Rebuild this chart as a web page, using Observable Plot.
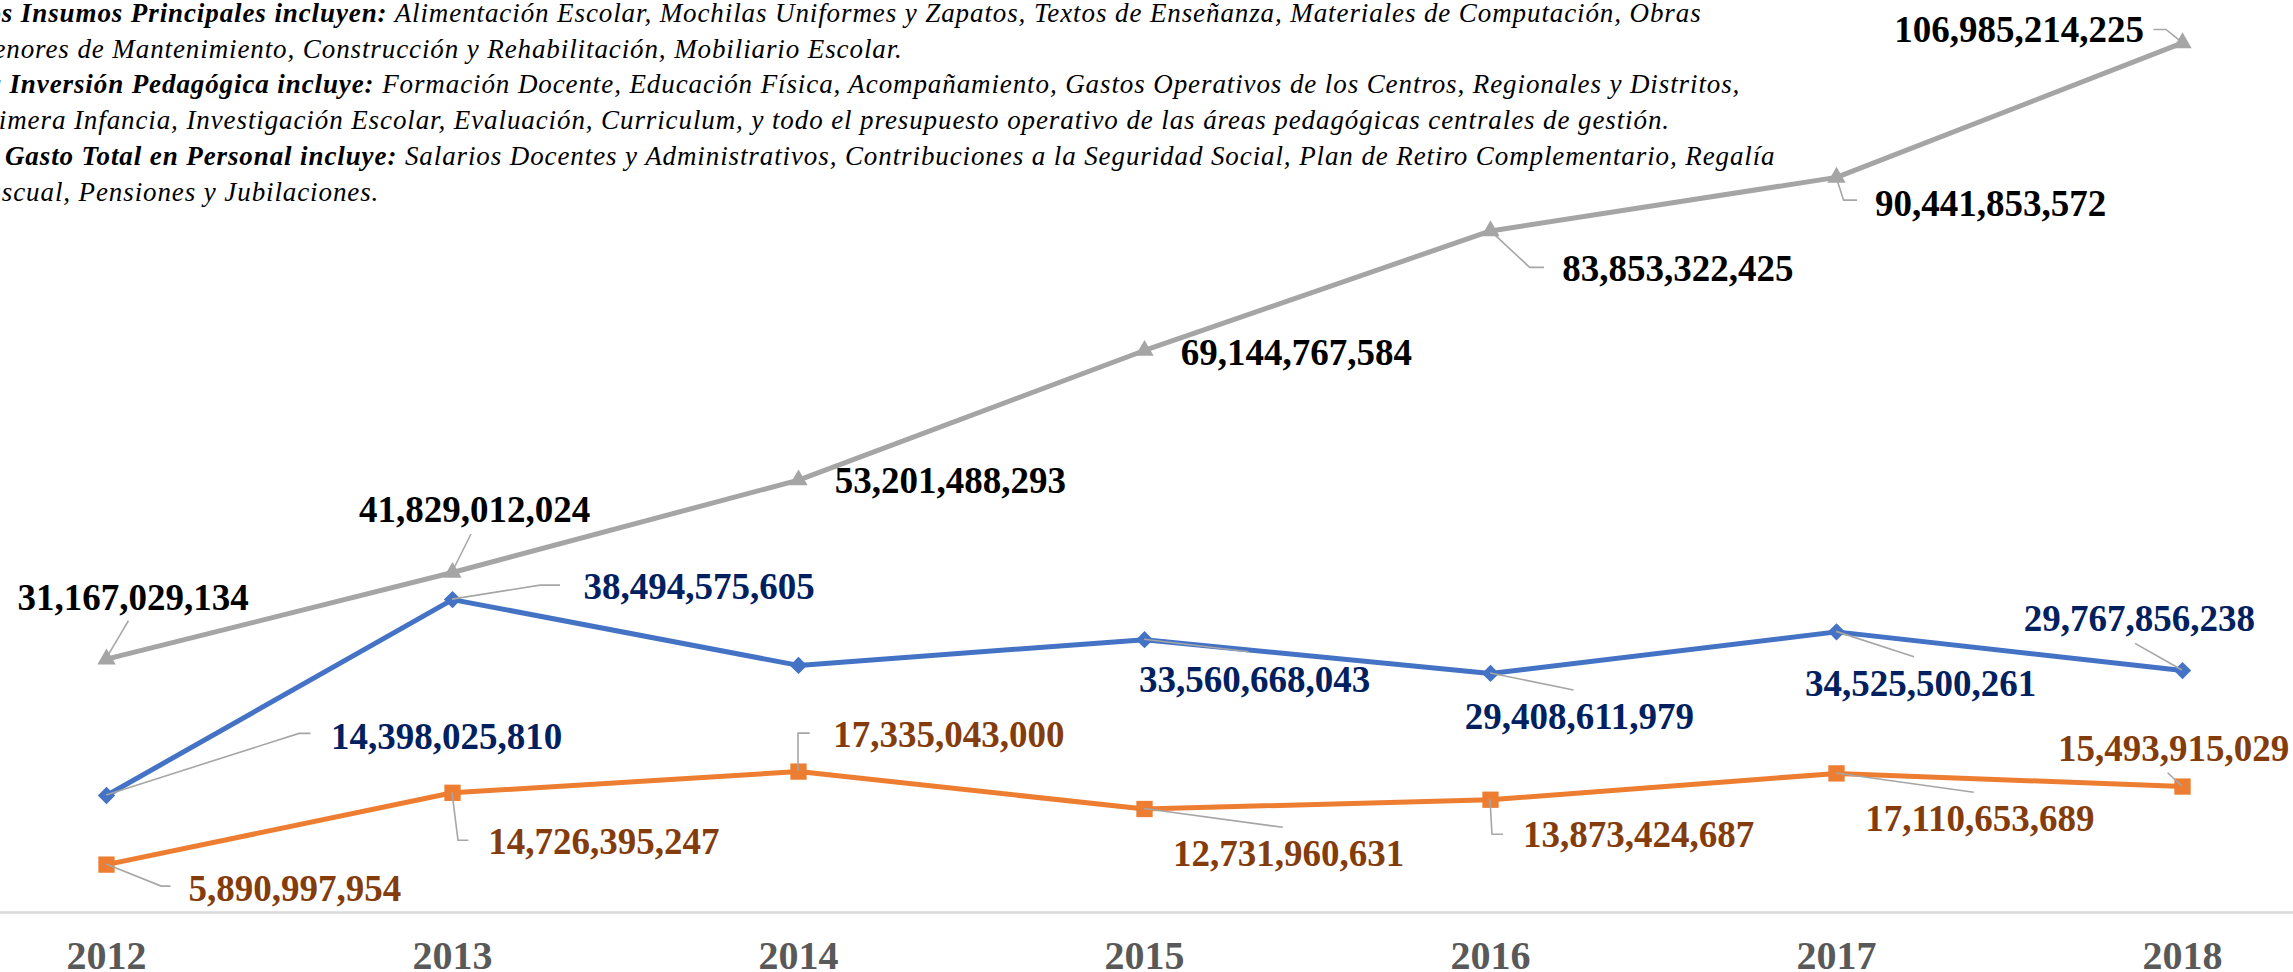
<!DOCTYPE html>
<html>
<head>
<meta charset="utf-8">
<script src="https://cdn.jsdelivr.net/npm/d3@7"></script>
<script src="https://cdn.jsdelivr.net/npm/@observablehq/plot@0.6"></script>
<style>
  html, body { margin: 0; padding: 0; background: #fff; overflow: hidden; width: 2293px; height: 972px; }
  #wrap { position: relative; width: 2293px; height: 972px; overflow: hidden; }
  #chart { position: absolute; left: 0; top: 0; }
  #note {
    position: absolute; left: -30px; top: -4px; z-index: 2;
    font-family: "Liberation Serif", "Times New Roman", serif;
    font-style: italic; font-size: 27px; line-height: 35.7px; letter-spacing: 0.9px;
    white-space: nowrap; color: #000;
  }
  #note b { font-weight: bold; }
</style>
</head>
<body>
<div id="wrap">
  <div id="chart"></div>
  <div id="note">
    <b>Los Insumos Principales incluyen:</b> Alimentación Escolar, Mochilas Uniformes y Zapatos, Textos de Enseñanza, Materiales de Computación, Obras<br>
    Menores de Mantenimiento, Construcción y Rehabilitación, Mobiliario Escolar.<br>
    <b>La Inversión Pedagógica incluye:</b> Formación Docente, Educación Física, Acompañamiento, Gastos Operativos de los Centros, Regionales y Distritos,<br>
    Primera Infancia, Investigación Escolar, Evaluación, Curriculum, y todo el presupuesto operativo de las áreas pedagógicas centrales de gestión.<br>
    <b>El Gasto Total en Personal incluye:</b> Salarios Docentes y Administrativos, Contribuciones a la Seguridad Social, Plan de Retiro Complementario, Regalía<br>
    Pascual, Pensiones y Jubilaciones.
  </div>
</div>
<script>
// ---------------- DATA ----------------
const years = ["2012", "2013", "2014", "2015", "2016", "2017", "2018"];
const seriesNames = ["Insumos Principales", "Inversión Pedagógica", "Gasto Total en Personal"];
// Insumos Principales (2014 value has no label in the source)
const insumos = [14398025810, 38494575605, 30400000000, 33560668043, 29408611979, 34525500261, 29767856238];
// Inversión Pedagógica
const pedagogica = [5890997954, 14726395247, 17335043000, 12731960631, 13873424687, 17110653689, 15493915029];
// Gasto Total en Personal
const personal = [31167029134, 41829012024, 53201488293, 69144767584, 83853322425, 90441853572, 106985214225];
// which values carry a data label in the source
const insumosLabeled = [true, true, false, true, true, true, true];

// ---------------- STYLE / LAYOUT ----------------
const fmt = d3.format(",");
const styleOf = {
  "Insumos Principales": {stroke: "#4472C4", label: "#002060", symbol: "diamond2", r: 7.8},
  "Inversión Pedagógica": {stroke: "#ED7D31", label: "#843C0C", symbol: "square", r: 9.2},
  "Gasto Total en Personal": {stroke: "#A5A5A5", label: "#000000", symbol: "triangle", r: 6.8}
};
// label nudges (pixels, relative to the point) and leader-line bends
const labelLayout = {
  "Insumos Principales": [
    {a: "start", dx: 224.5, dy: -46.6, leader: [[193, -61.6], [204.5, -61.6]]},
    {a: "start", dx: 131, dy: -0.7, leader: [[88, -14], [108, -14]]},
    null,
    {a: "middle", dx: 110, dy: 52.5, leader: [[104.6, 12.5]]},
    {a: "middle", dx: 88.8, dy: 55.4, leader: [[83.5, 17]]},
    {a: "middle", dx: 84, dy: 63.7, leader: [[78, 25.4]]},
    {a: "middle", dx: -43.2, dy: -40, leader: [[-47, -26.7]]}
  ],
  "Inversión Pedagógica": [
    {a: "start", dx: 82, dy: 35.9, leader: [[55.2, 22], [64.5, 22]]},
    {a: "start", dx: 35.8, dy: 61.7, leader: [[6, 48], [16.4, 48]]},
    {a: "start", dx: 34.7, dy: -24.4, leader: [[0, -38], [11.7, -38]]},
    {a: "start", dx: 28.5, dy: 56.5, leader: [[138.8, 18.8]]},
    {a: "start", dx: 32.5, dy: 47.5, leader: [[2, 35], [13, 35]]},
    {a: "start", dx: 28.8, dy: 57.1, leader: [[137.7, 19.4]]},
    {a: "middle", dx: -9, dy: -26, leader: [[-14.4, -13.3]]}
  ],
  "Gasto Total en Personal": [
    {a: "middle", dx: 26.5, dy: -49.3, leader: [[22.5, -38]]},
    {a: "middle", dx: 22, dy: -50.2, leader: [[19, -38]]},
    {a: "start", dx: 36.2, dy: 13.2, leader: null},
    {a: "start", dx: 36.2, dy: 14.4, leader: null},
    {a: "start", dx: 71.8, dy: 50.4, leader: [[39.7, 37], [54, 37]]},
    {a: "start", dx: 38.5, dy: 38.3, leader: [[7.6, 23.3], [21, 23.3]]},
    {a: "end", dx: -38.5, dy: -0.5, leader: [[-16, -12.9], [-28.5, -12.9]]}
  ]
};

// ---------------- TABLE ----------------
const valuesOf = {
  "Insumos Principales": insumos,
  "Inversión Pedagógica": pedagogica,
  "Gasto Total en Personal": personal
};
const rows = [];
for (const s of seriesNames) {
  valuesOf[s].forEach((v, i) => {
    const labeled = s === "Insumos Principales" ? insumosLabeled[i] : true;
    rows.push({series: s, year: years[i], value: v, label: labeled ? fmt(v) : null, layout: labeled ? labelLayout[s][i] : null});
  });
}

// leader lines drawn through the plot's own scales
function leaders(index, scales) {
  const g = d3.create("svg:g")
    .attr("fill", "none")
    .attr("stroke", "#A6A6A6")
    .attr("stroke-width", 1.6)
    .attr("stroke-linejoin", "miter");
  for (const d of rows) {
    if (!d.layout || !d.layout.leader) continue;
    const x0 = scales.x(d.year), y0 = scales.y(d.value);
    const pts = [[0, 0], ...d.layout.leader].map(([a, b]) => `${x0 + a},${y0 + b}`);
    g.append("path").attr("d", "M" + pts.join("L"));
  }
  return g.node();
}

const marks = [
  Plot.ruleY([0], {stroke: "#D9D9D9", strokeWidth: 2.5}),
  Plot.axisX({tickSize: 0, tickPadding: 28, label: null, fontSize: 40, fontWeight: "bold", color: "#595959", fontFamily: "Liberation Serif"})
];
for (const s of seriesNames) {
  const st = styleOf[s];
  const data = rows.filter(d => d.series === s);
  marks.push(Plot.line(data, {x: "year", y: "value", stroke: st.stroke, strokeWidth: 5, strokeLinejoin: "round"}));
}
for (const s of seriesNames) {
  const st = styleOf[s];
  const data = rows.filter(d => d.series === s);
  marks.push(Plot.dot(data, {x: "year", y: "value", symbol: st.symbol, r: st.r, fill: st.stroke, stroke: "none"}));
}
marks.push(leaders);
for (const d of rows) {
  if (!d.label) continue;
  const st = styleOf[d.series];
  marks.push(Plot.text([d], {
    x: "year", y: "value", text: "label",
    dx: d.layout.dx, dy: d.layout.dy,
    textAnchor: d.layout.a, lineAnchor: "bottom",
    fontSize: 37, fontWeight: "bold", fontFamily: "Liberation Serif",
    fill: st.label
  }));
}

const chart = Plot.plot({
  width: 2293,
  height: 972,
  marginTop: 0,
  marginBottom: 60,
  marginLeft: 0,
  marginRight: 0,
  x: {type: "point", domain: years, range: [105.5, 2182.5], padding: 0, axis: null, label: null},
  y: {domain: [0, 112.2e9], axis: null},
  style: {fontFamily: "Liberation Serif", background: "#fff"},
  marks
});
document.getElementById("chart").appendChild(chart);
</script>
</body>
</html>
